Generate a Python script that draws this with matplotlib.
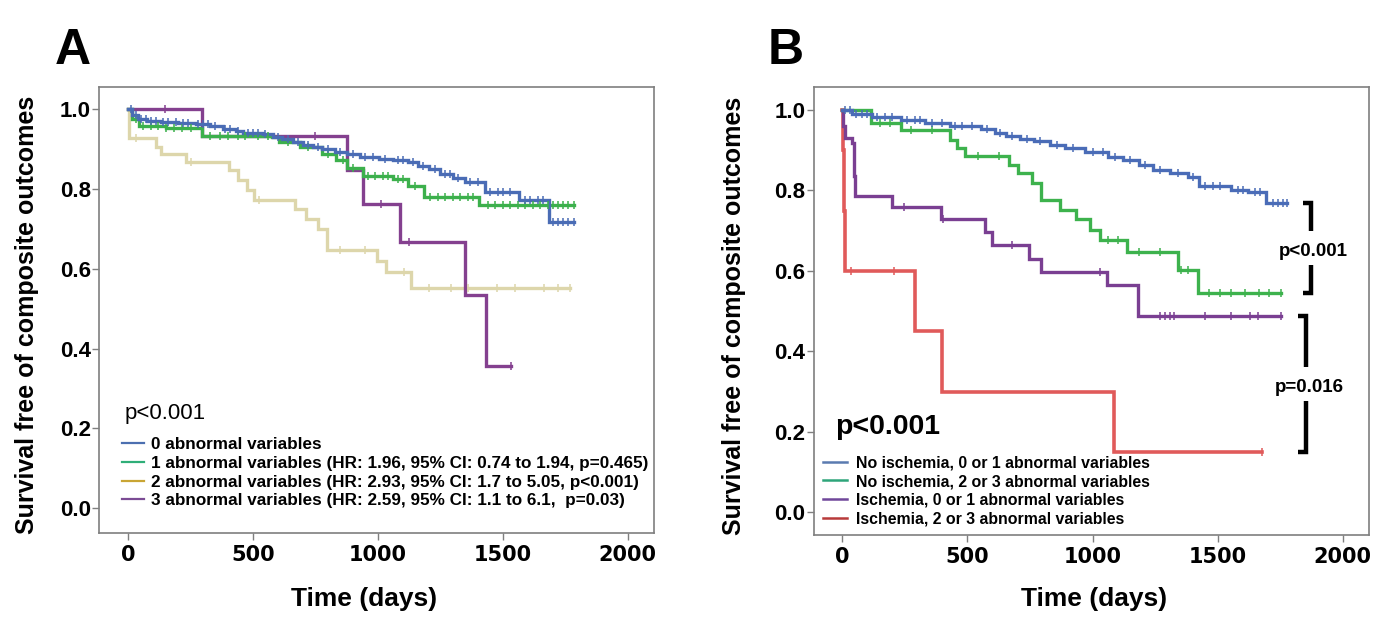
import numpy as np
import matplotlib
matplotlib.use("Agg")
import matplotlib.pyplot as plt
from matplotlib.lines import Line2D

plt.rcParams['font.family'] = ['Liberation Sans', 'DejaVu Sans']

# ---------------- Panel A data ----------------
a_labels = ["0 abnormal variables",
            "1 abnormal variables (HR: 1.96, 95% CI: 0.74 to 1.94, p=0.465)",
            "2 abnormal variables (HR: 2.93, 95% CI: 1.7 to 5.05, p<0.001)",
            "3 abnormal variables (HR: 2.59, 95% CI: 1.1 to 6.1,  p=0.03)"]

a0_t = [0, 15, 40, 74, 130, 200, 270, 330, 380, 432, 460, 540, 580, 618, 660, 700, 740, 775,
        830, 875, 930, 1004, 1060, 1119, 1160, 1205, 1248, 1300, 1348, 1427, 1563, 1684]
a0_s = [1.0, 0.985, 0.975, 0.970, 0.967, 0.964, 0.961, 0.957, 0.950, 0.944, 0.939, 0.936, 0.930,
        0.924, 0.917, 0.910, 0.905, 0.900, 0.893, 0.886, 0.880, 0.875, 0.871, 0.866, 0.858, 0.850,
        0.838, 0.828, 0.818, 0.793, 0.772, 0.718]
a0_end = 1784
a0_cens = [10, 30, 50, 70, 90, 110, 140, 160, 190, 220, 240, 280, 300, 320, 350, 390, 410, 440,
           480, 500, 520, 550, 600, 640, 680, 720, 760, 800, 850, 900, 950, 980, 1030, 1080, 1100,
           1140, 1180, 1230, 1270, 1290, 1320, 1370, 1400, 1450, 1480, 1500, 1530, 1590, 1610,
           1640, 1660, 1700, 1720, 1740, 1760, 1784]

a1_t = [0, 16, 45, 150, 296, 575, 604, 689, 775, 832, 875, 940, 1062, 1119, 1183, 1405]
a1_s = [1.0, 0.975, 0.958, 0.953, 0.932, 0.929, 0.917, 0.904, 0.887, 0.871, 0.852, 0.832, 0.825,
        0.808, 0.779, 0.760]
a1_end = 1784
a1_cens = [30, 60, 90, 120, 150, 185, 215, 250, 330, 370, 400, 440, 470, 520, 560, 640, 720, 800,
           860, 900, 960, 990, 1020, 1040, 1080, 1100, 1150, 1210, 1240, 1270, 1300, 1330, 1360,
           1380, 1440, 1470, 1500, 1530, 1560, 1590, 1620, 1650, 1680, 1700, 1720, 1740, 1760, 1784]

a2_t = [0, 2, 110, 130, 231, 403, 439, 475, 503, 668, 711, 761, 797, 997, 1033, 1133]
a2_s = [1.0, 0.928, 0.905, 0.888, 0.868, 0.846, 0.821, 0.796, 0.773, 0.750, 0.725, 0.700, 0.646,
        0.620, 0.592, 0.552]
a2_end = 1770
a2_cens = [31, 253, 525, 847, 947, 1105, 1205, 1291, 1362, 1477, 1548, 1663, 1720, 1770]

a3_t = [0, 296, 875, 940, 1090, 1348, 1431]
a3_s = [1.0, 0.933, 0.848, 0.763, 0.667, 0.533, 0.356]
a3_end = 1534
a3_cens = [146, 747, 1011, 1126, 1534]

# ---------------- Panel B data ----------------
b_labels = ["No ischemia, 0 or 1 abnormal variables",
            "No ischemia, 2 or 3 abnormal variables",
            "Ischemia, 0 or 1 abnormal variables",
            "Ischemia, 2 or 3 abnormal variables"]

b0_t = [0, 40, 120, 233, 330, 429, 556, 610, 654, 710, 766, 830, 892, 970, 1060, 1120, 1187,
        1243, 1310, 1383, 1425, 1552, 1620, 1692]
b0_s = [1.0, 0.990, 0.983, 0.975, 0.967, 0.959, 0.952, 0.944, 0.936, 0.929, 0.922, 0.913, 0.905,
        0.896, 0.884, 0.875, 0.864, 0.850, 0.843, 0.833, 0.812, 0.802, 0.795, 0.769]
b0_end = 1776
b0_cens = [10, 30, 55, 80, 100, 140, 170, 200, 260, 290, 310, 360, 400, 450, 480, 520, 580, 630,
           680, 740, 790, 860, 920, 1000, 1040, 1090, 1150, 1210, 1270, 1340, 1400, 1450, 1480,
           1510, 1580, 1600, 1650, 1670, 1720, 1740, 1760, 1776]

b1_t = [0, 114, 233, 429, 457, 492, 668, 703, 759, 794, 871, 934, 990, 1030, 1138, 1341, 1422]
b1_s = [1.0, 0.967, 0.950, 0.926, 0.905, 0.886, 0.864, 0.843, 0.818, 0.776, 0.752, 0.729, 0.703,
        0.677, 0.647, 0.602, 0.545]
b1_end = 1755
b1_cens = [149, 191, 275, 359, 541, 626, 1061, 1103, 1187, 1271, 1355, 1383, 1467, 1510, 1552,
           1608, 1664, 1706, 1755]

b2_t = [0, 2, 12, 40, 46, 50, 198, 394, 570, 598, 745, 794, 1058, 1180]
b2_s = [1.0, 0.960, 0.930, 0.917, 0.835, 0.787, 0.759, 0.728, 0.697, 0.665, 0.629, 0.598,
        0.564, 0.488]
b2_end = 1755
b2_cens = [245, 401, 680, 1030, 1271, 1290, 1310, 1327, 1448, 1555, 1628, 1661, 1755]

b3_t = [0, 3, 8, 12, 289, 398, 1086]
b3_s = [1.0, 0.90, 0.75, 0.60, 0.45, 0.30, 0.15]
b3_end = 1678
b3_cens = [36, 205, 1678]

# ---------------- styles ----------------
a_colors = ['#4a6cb5', '#3cb04c', '#ddd6ab', '#84408f']
a_leg_colors = ['#4c6fb0', '#2fae78', '#c9a534', '#7b4b94']
b_colors = ['#4a6cb7', '#3db24d', '#7a3f92', '#e05a5a']
b_leg_colors = ['#5a7bb0', '#2ea57a', '#70479a', '#b83a3a']
spine_col = '#7f7f7f'

fig = plt.figure(figsize=(13.81, 6.32), dpi=100)
axA = fig.add_axes([0.0719, 0.1571, 0.4017, 0.7048])
axB = fig.add_axes([0.5891, 0.1535, 0.4022, 0.7088])


def surv_at(times, surv, t):
    idx = np.searchsorted(np.asarray(times), np.asarray(t), side='right') - 1
    return np.asarray(surv)[idx]


def draw_km(ax, times, surv, end, cens, color, lw=2.4):
    xs = list(times) + [end]
    ys = list(surv) + [surv[-1]]
    ax.step(xs, ys, where='post', color=color, lw=lw, solid_joinstyle='miter', zorder=3)
    cy = surv_at(times, surv, cens)
    ax.plot(cens, cy, linestyle='none', marker='|', ms=5.5, mew=1.1, color=color, zorder=4)


def style_axes(ax, ylim):
    ax.set_xlim(-115, 2105)
    ax.set_ylim(*ylim)
    ax.set_xticks([0, 500, 1000, 1500, 2000])
    ax.set_yticks([0.0, 0.2, 0.4, 0.6, 0.8, 1.0])
    ax.set_yticklabels(['0.0', '0.2', '0.4', '0.6', '0.8', '1.0'])
    for s in ax.spines.values():
        s.set_color(spine_col)
        s.set_linewidth(1.2)
    ax.tick_params(axis='both', direction='out', length=5, width=1, color=spine_col)
    ax.tick_params(axis='y', pad=1)
    ax.tick_params(axis='x', pad=4)
    for lab in ax.get_yticklabels():
        lab.set_fontsize(16)
        lab.set_fontweight('bold')
    for lab in ax.get_xticklabels():
        lab.set_fontsize(15)
        lab.set_fontweight('bold')
        lab.set_family('DejaVu Sans')
    ax.set_xlabel('Time (days)', fontsize=19, fontweight='bold')
    ax.set_ylabel('Survival free of composite outcomes', fontsize=18, fontweight='bold')


# ---- Panel A ----
draw_km(axA, a2_t, a2_s, a2_end, a2_cens, a_colors[2])
draw_km(axA, a3_t, a3_s, a3_end, a3_cens, a_colors[3])
draw_km(axA, a1_t, a1_s, a1_end, a1_cens, a_colors[1])
draw_km(axA, a0_t, a0_s, a0_end, a0_cens, a_colors[0])
style_axes(axA, (-0.061, 1.054))
axA.xaxis.set_label_coords(0.477, -0.1215)
axA.yaxis.set_label_coords(-0.109, 0.49)
axA.text(0.0463, 0.2687, 'p<0.001', transform=axA.transAxes, fontsize=16, va='center', ha='left')
hA = [Line2D([], [], color=c, lw=1.6) for c in a_leg_colors]
axA.legend(hA, a_labels, loc='upper left', bbox_to_anchor=(0.0404, 0.2149), frameon=False,
           borderpad=0, borderaxespad=0, handlelength=1.3, handletextpad=0.4,
           labelspacing=0.22, prop={'size': 12.3, 'weight': 'bold'})

# ---- Panel B ----
draw_km(axB, b3_t, b3_s, b3_end, b3_cens, b_colors[3], lw=2.6)
draw_km(axB, b2_t, b2_s, b2_end, b2_cens, b_colors[2])
draw_km(axB, b1_t, b1_s, b1_end, b1_cens, b_colors[1])
draw_km(axB, b0_t, b0_s, b0_end, b0_cens, b_colors[0])
style_axes(axB, (-0.056, 1.057))
axB.xaxis.set_label_coords(0.505, -0.117)
axB.yaxis.set_label_coords(-0.122, 0.49)
axB.text(0.0387, 0.2417, 'p<0.001', transform=axB.transAxes, fontsize=20.5, fontweight='bold',
         va='center', ha='left')
hB = [Line2D([], [], color=c, lw=1.8) for c in b_leg_colors]
axB.legend(hB, b_labels, loc='upper left', bbox_to_anchor=(0.0171, 0.1775), frameon=False,
           borderpad=0, borderaxespad=0, handlelength=1.52, handletextpad=0.55,
           labelspacing=0.225, prop={'size': 11.4, 'weight': 'bold'})

# significance brackets between curve end values
brackets = [(b0_s[-1], b1_s[-1], 1875, 'p<0.001', 1884),
            (b2_s[-1], b3_s[-1], 1852, 'p=0.016', 1866)]
for top, bot, bx, txt, tx in brackets:
    mid = (top + bot) / 2.0
    gap = 0.042
    serif = 32
    axB.plot([bx - serif, bx, bx], [top, top, mid + gap], color='black', lw=3.2,
             solid_joinstyle='miter', solid_capstyle='butt', zorder=5)
    axB.plot([bx, bx, bx - serif], [mid - gap, bot, bot], color='black', lw=3.2,
             solid_joinstyle='miter', solid_capstyle='butt', zorder=5)
    axB.text(tx, mid - 0.008, txt, fontsize=13.5, fontweight='bold', ha='center', va='center')

fig.text(54.5 / 1381, 1 - 64 / 632, 'A', fontsize=36, fontweight='bold', va='baseline', ha='left')
fig.text(768 / 1381, 1 - 64 / 632, 'B', fontsize=36, fontweight='bold', va='baseline', ha='left')

fig.savefig('out.png', dpi=100)
